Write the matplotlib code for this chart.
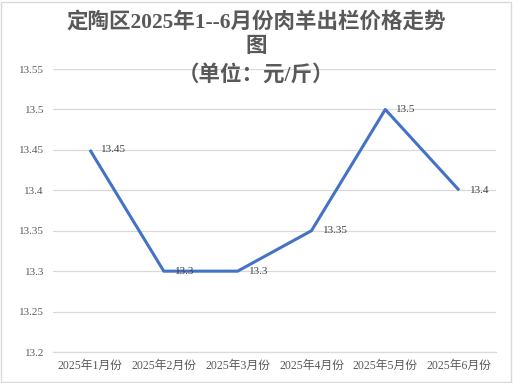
import matplotlib
matplotlib.use("Agg")
import matplotlib.pyplot as plt
from matplotlib.patches import Rectangle

# данные графика
months = ["2025年1月份", "2025年2月份", "2025年3月份", "2025年4月份", "2025年5月份", "2025年6月份"]
prices = [13.45, 13.3, 13.3, 13.35, 13.5, 13.4]
y_ticks = [13.2, 13.25, 13.3, 13.35, 13.4, 13.45, 13.5, 13.55]
title_lines = ["定陶区2025年1--6月份肉羊出栏价格走势", "图", "（单位：元/斤）"]

fonts = ["Liberation Serif", "Noto Sans CJK SC", "DejaVu Sans"]
plt.rcParams["font.family"] = fonts

fig = plt.figure(figsize=(5.13, 3.83), dpi=100)
fig.patches.append(Rectangle((0.002, 0.003), 0.994, 0.992, transform=fig.transFigure,
                             fill=False, edgecolor="#D9D9D9", linewidth=1.0))

ax = fig.add_axes([0.1033, 0.0809, 0.8637, 0.7389])
x = list(range(len(months)))
ax.plot(x, prices, color="#4472C4", linewidth=2.2, solid_capstyle="butt")

for xi, v in zip(x, prices):
    ax.annotate(f"{v:g}", (xi, v), xytext=(8, 0), textcoords="offset points",
                ha="left", va="center", fontsize=8, color="#404040")

ax.set_xlim(-0.5, len(months) - 0.5)
ax.set_ylim(13.2, 13.55)
ax.set_yticks(y_ticks)
ax.set_yticklabels([f"{t:g}" for t in y_ticks], fontsize=8, color="#595959")
ax.set_xticks(x)
ax.set_xticklabels(months, fontsize=8.5, color="#595959")
ax.tick_params(length=0, pad=6)
ax.tick_params(axis="y", pad=6.5)

ax.grid(axis="y", color="#D9D9D9", linewidth=0.9)
ax.set_axisbelow(True)
for s in ["top", "right", "left"]:
    ax.spines[s].set_visible(False)
ax.spines["bottom"].set_color("#D9D9D9")
ax.spines["bottom"].set_linewidth(0.9)

# заголовок в три строки
ys = [0.9426, 0.877, 0.804]
for line, yy in zip(title_lines, ys):
    fig.text(0.5, yy, line, ha="center", va="center", fontsize=15.5,
             fontweight="bold", color="#595959")

fig.savefig("out.png", dpi=100)
